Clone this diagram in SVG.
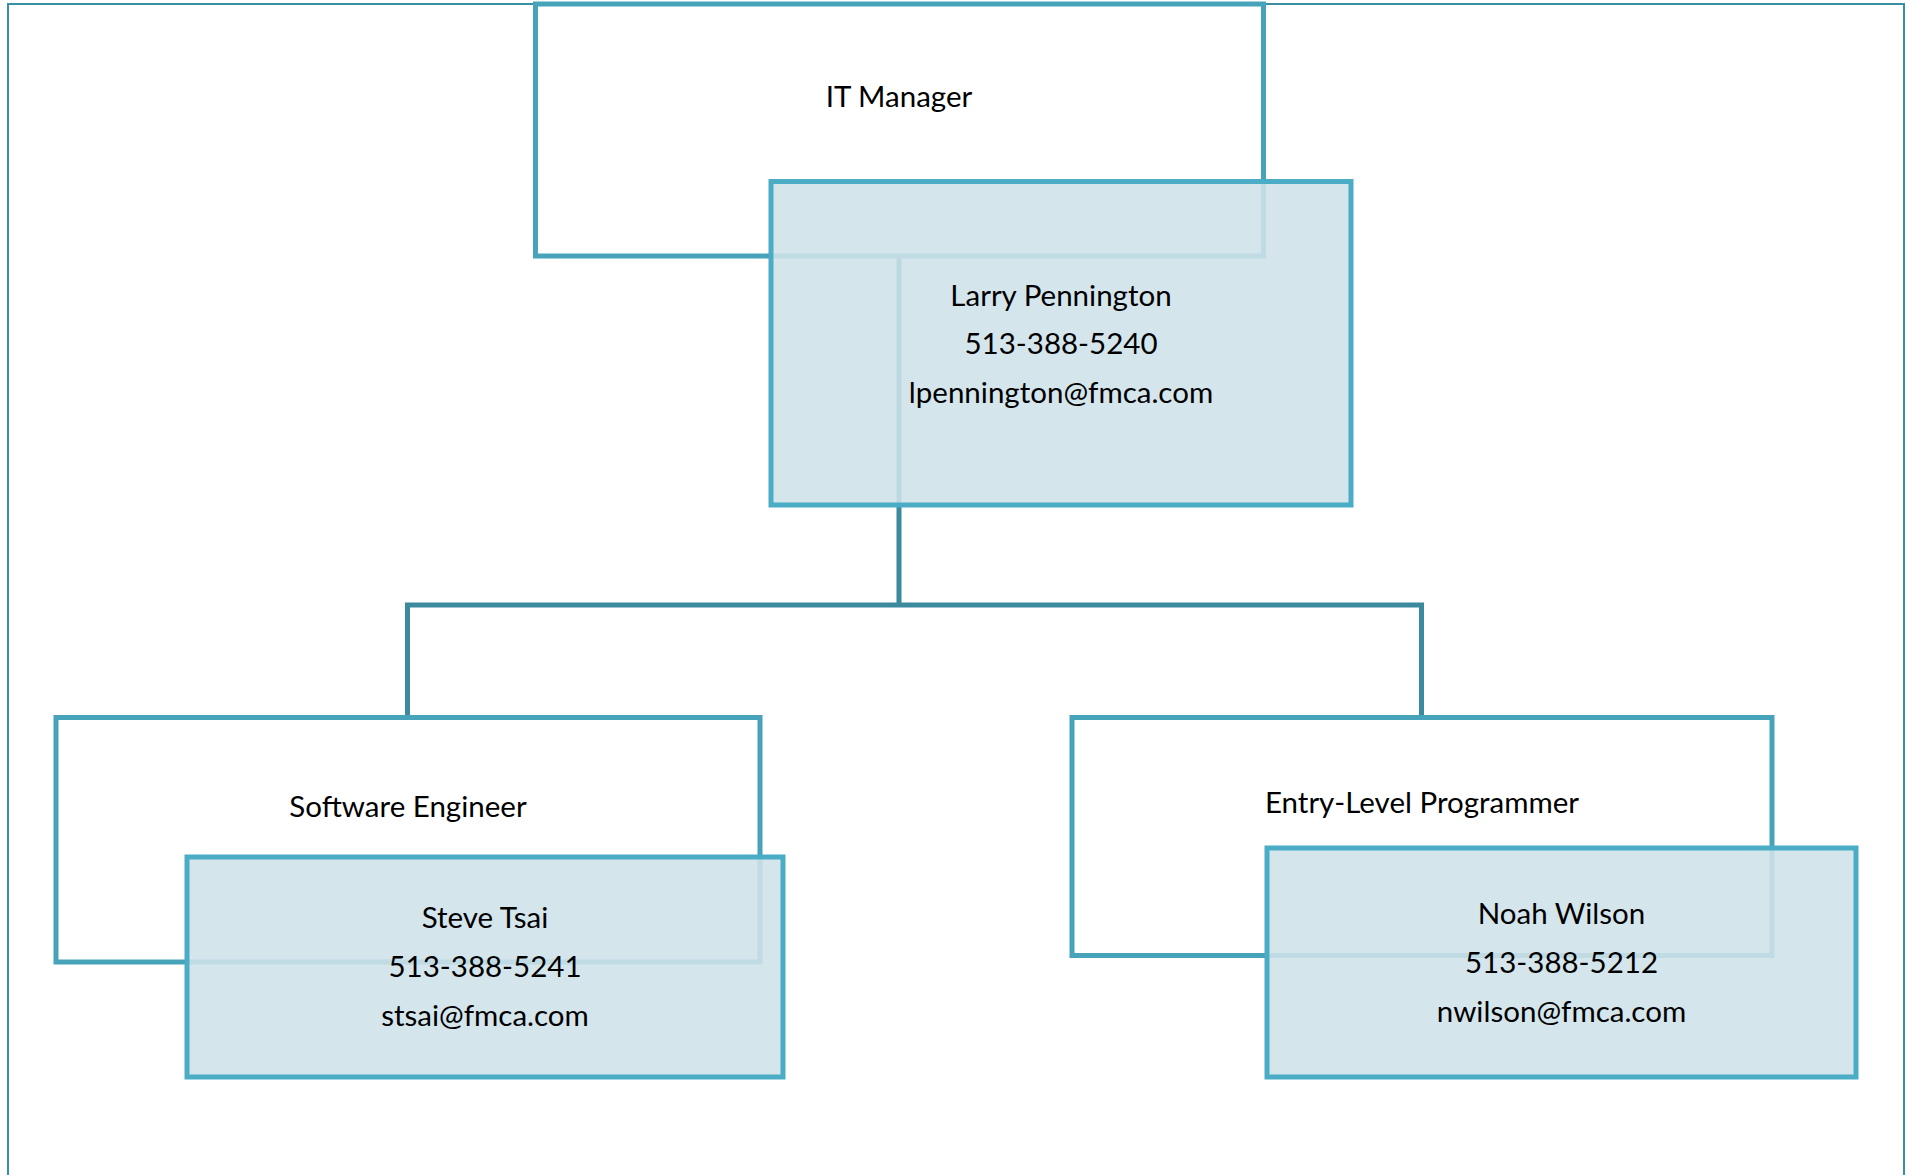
<svg xmlns="http://www.w3.org/2000/svg" width="1916" height="1175" viewBox="0 0 1916 1175">
<style>
.frame{fill:none;stroke:#3a8ea3;stroke-width:2}
.pos{fill:#ffffff;stroke:#47a3b9;stroke-width:5}
.name{fill:#cfe2ea;fill-opacity:0.89;stroke:#4bacc6;stroke-width:5}
.conn{fill:none;stroke:#3b8a9e;stroke-width:5}
text{font-family:Lato,"Open Sans","Liberation Sans",sans-serif;font-size:29.5px;fill:#000000;text-anchor:middle}
</style>
<rect width="1916" height="1175" fill="#ffffff"/>
<rect class="frame" x="8" y="4" width="1896" height="1190"/>
<g id="connectors">
<path class="conn" d="M899,256 V605"/>
<path class="conn" d="M407.5,717 V605 H1421.5 V717"/>
</g>
<g id="it-manager">
<rect class="pos" x="535.5" y="4" width="728" height="252"/>
<text x="899" y="107">IT Manager</text>
</g>
<g id="software-engineer">
<rect class="pos" x="56" y="717.5" width="704" height="244.5"/>
<text x="408" y="817">Software Engineer</text>
</g>
<g id="entry-level-programmer">
<rect class="pos" x="1072" y="717.5" width="700" height="238"/>
<text x="1422" y="813">Entry-Level Programmer</text>
</g>
<g id="larry-pennington">
<rect class="name" x="771" y="181.5" width="580" height="323.5"/>
<text x="1061" y="305.5">Larry Pennington</text>
<text x="1061" y="353.5">513-388-5240</text>
<text x="1061" y="402.5">lpennington@fmca.com</text>
</g>
<g id="steve-tsai">
<rect class="name" x="187" y="857" width="596" height="220"/>
<text x="485" y="927.5">Steve Tsai</text>
<text x="485" y="977">513-388-5241</text>
<text x="485" y="1026">stsai@fmca.com</text>
</g>
<g id="noah-wilson">
<rect class="name" x="1267" y="848" width="589" height="229"/>
<text x="1561.5" y="924">Noah Wilson</text>
<text x="1561.5" y="973">513-388-5212</text>
<text x="1561.5" y="1022">nwilson@fmca.com</text>
</g>
</svg>
